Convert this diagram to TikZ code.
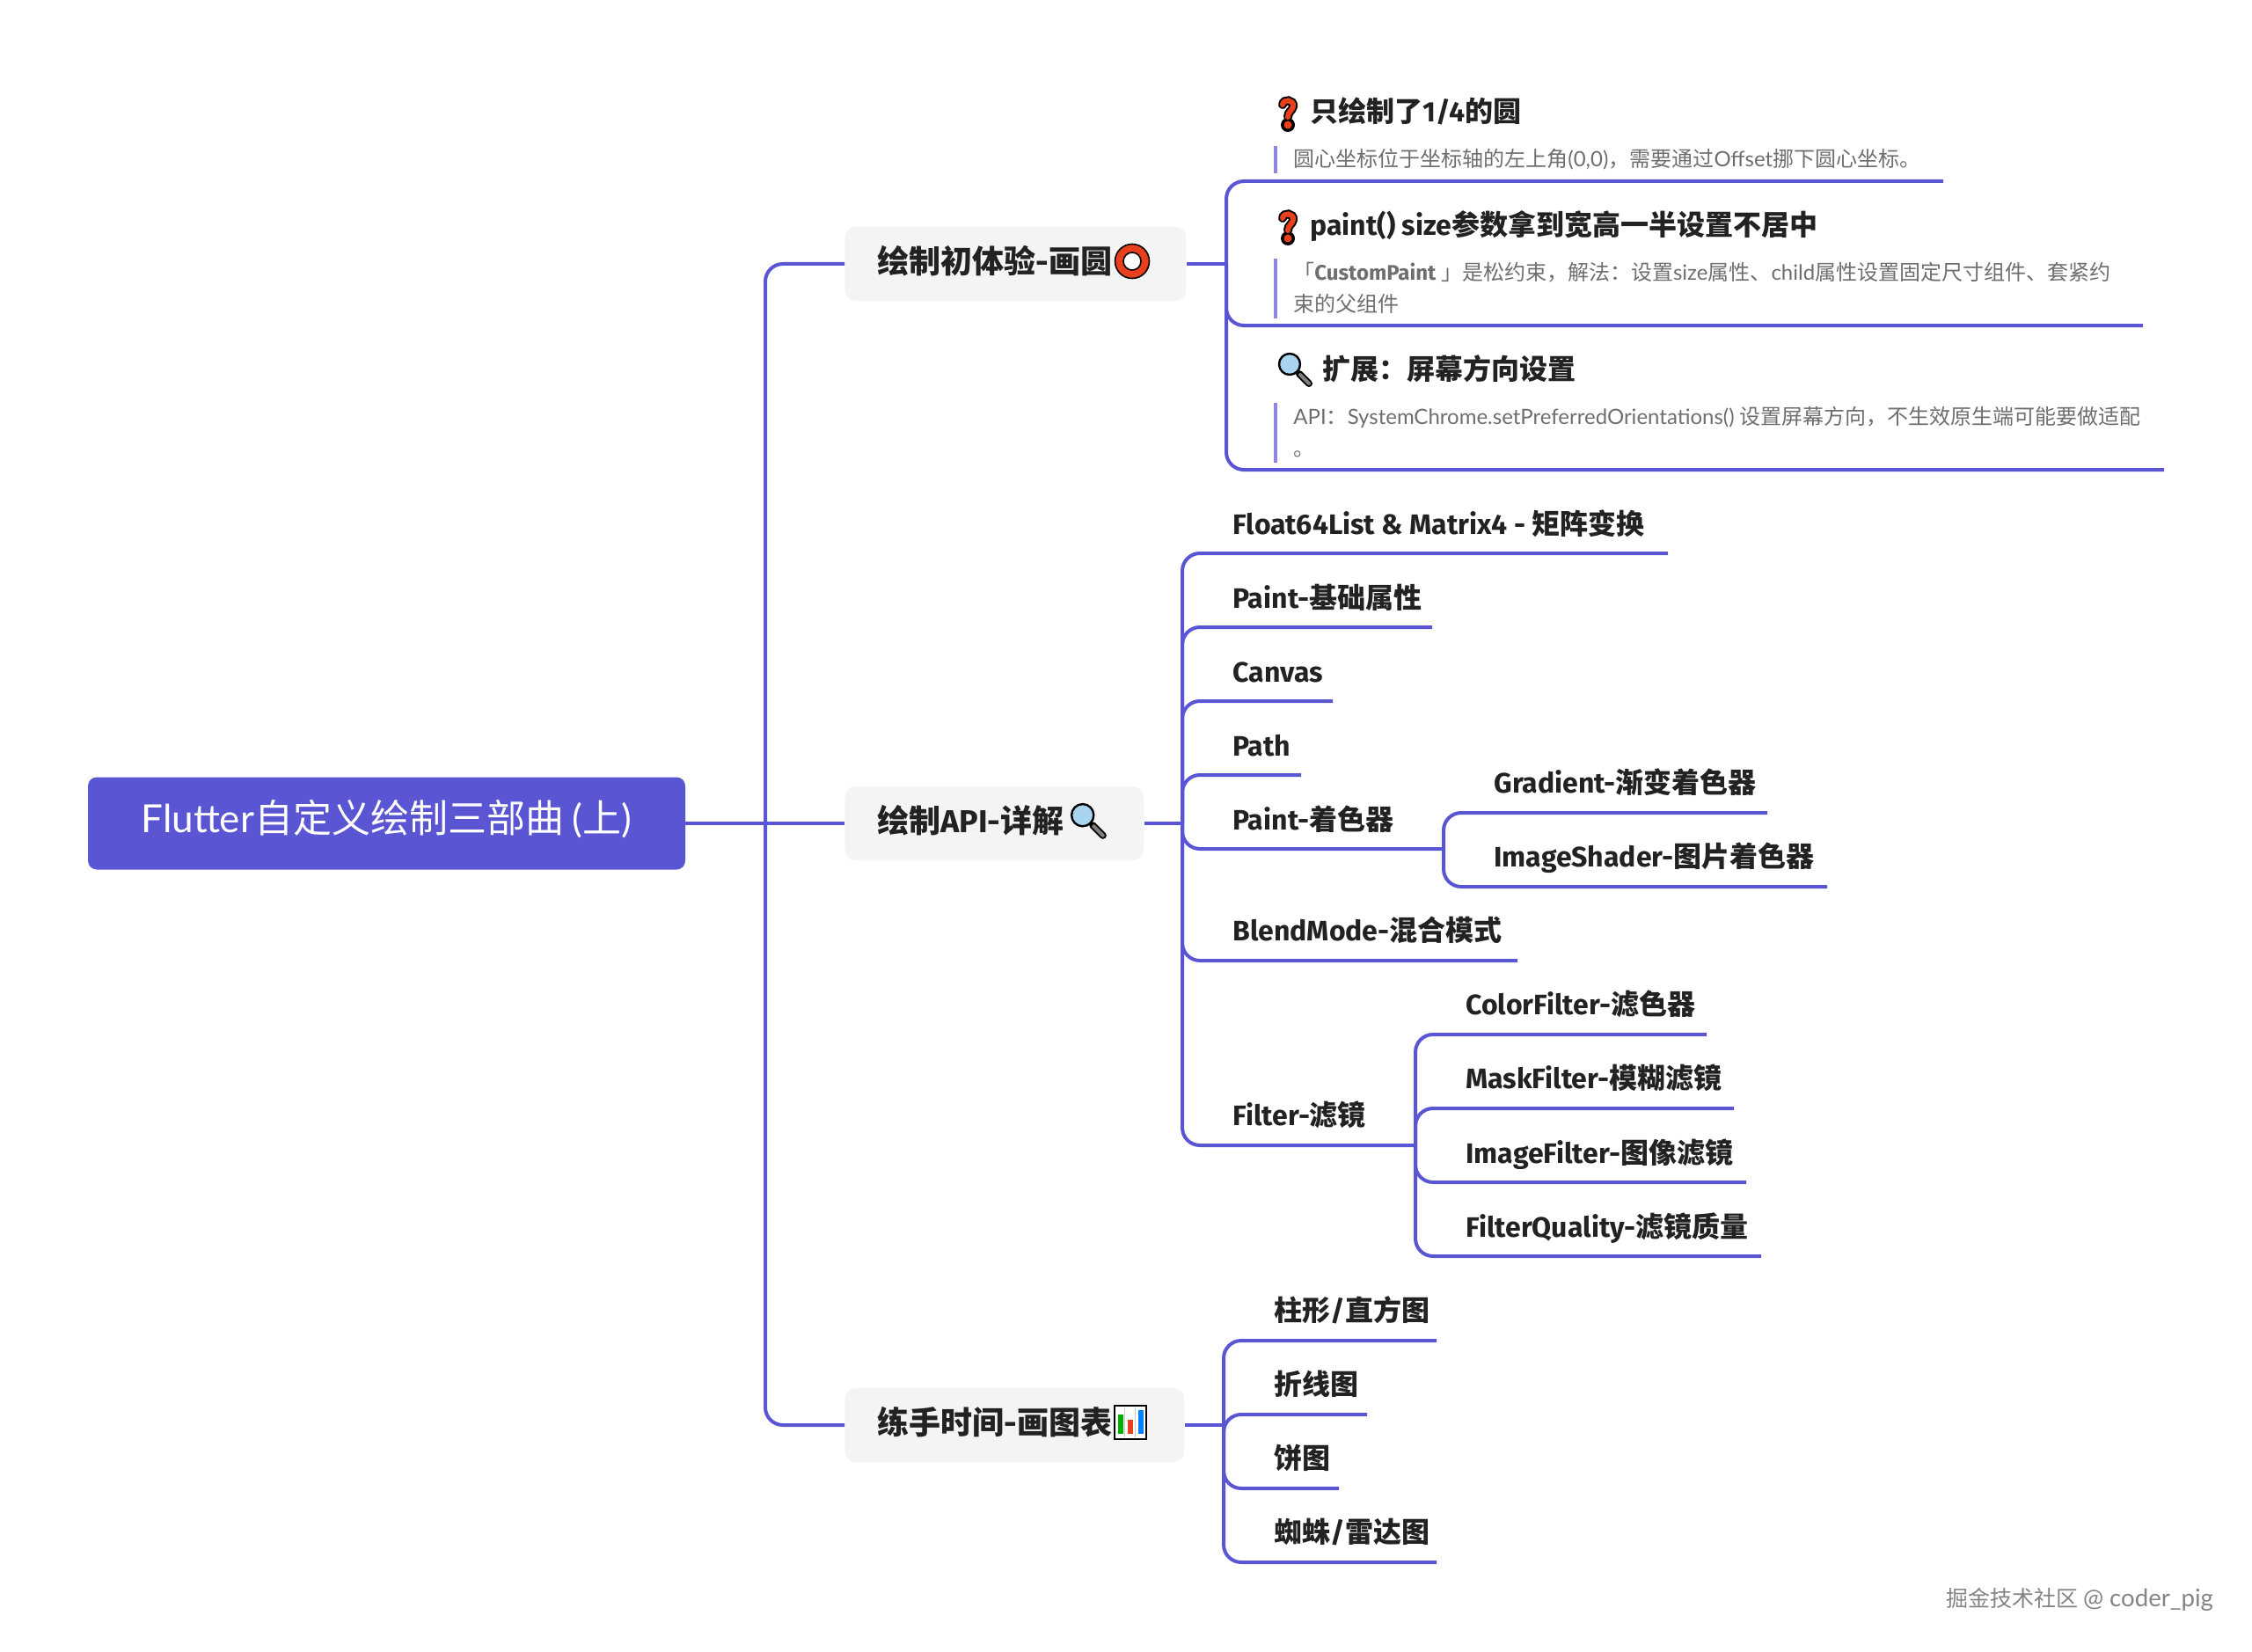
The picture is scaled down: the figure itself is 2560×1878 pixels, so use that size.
\documentclass[tikz,border=0pt]{standalone}
\usepackage{fontspec}
\setmainfont{Noto Sans CJK SC}
\newfontfamily\cjkface{Noto Sans CJK SC}
\newfontfamily\latface{Lato}[BoldFont={Fira Sans Bold}]
\newcount\asciichar
\asciichar=33
\loop
  \XeTeXcharclass\asciichar=7
  \advance\asciichar by 1
\ifnum\asciichar<127 \repeat
\XeTeXinterchartokenstate=1
\XeTeXinterchartoks 0 7 = {\latface}
\XeTeXinterchartoks 7 0 = {\cjkface}
\XeTeXinterchartoks 4095 7 = {\latface}
\XeTeXinterchartoks 4095 0 = {\cjkface}
\usepackage{xcolor}
\usepackage{tikz}
\usetikzlibrary{positioning}
\definecolor{mapblue}{HTML}{5A55D2}
\definecolor{barblue}{HTML}{8C87E3}
\definecolor{boxgray}{HTML}{F4F4F5}
\definecolor{inkdark}{HTML}{222222}
\definecolor{notegray}{HTML}{6E6E6E}
\definecolor{marked}{HTML}{E8401C}
\definecolor{lensblue}{HTML}{A8D4F0}
\tikzset{
  every picture/.style = {
    x = 0.5pt,
    y = -0.5pt,
  }
  ,
  link/.style = {
    draw = mapblue,
    line width = 2pt,
    rounded corners = 10pt
  }
  ,
  root-box/.style = {
    fill = mapblue,
    text = white,
    rounded corners = 5pt,
    font = \fontsize{22}{24}\selectfont,
    minimum width = 339.5pt,
    minimum height = 52.5pt,
    text height = 1.07em,
    text depth = 0pt,
    inner sep = 0pt
  }
  , % the three grey boxes
  branch-box/.style = {
    fill = boxgray,
    text = inkdark,
    rounded corners = 6pt,
    anchor = west,
    align = left,
    font = \fontsize{18}{22}\selectfont\bfseries,
    inner xsep = 18.5pt,
    inner ysep = 0pt,
    text height = 1.04em,
    text depth = 0pt,
    minimum height = 42pt
  }
  , % labels standing on a line
  leaf-text/.style = {
    anchor = west,
    text = inkdark,
    inner sep = 0pt,
    text height = 1.1em,
    text depth = 0pt,
    font = \fontsize{16}{20}\selectfont\bfseries
  }
  ,
  note-text/.style = {
    anchor = west,
    align = left,
    text = notegray,
    inner sep = 0pt,
    font = \fontsize{12}{18}\selectfont
  }
  ,
  note-bar/.style = {
    draw = barblue,
    line width = 2pt
  }
  ,
  mark-text/.style = {
    anchor = west,
    text = notegray!85,
    inner sep = 0pt,
    font = \fontsize{12.5}{16}\selectfont
  }
  , % small pictures beside the labels
  qmark/.pic = {
    \draw[black, line width = 5pt, line cap = round] (-6,-9) .. controls (-5,-16) and (7,-15) .. (6,-7) .. controls (5,-2) and (0,-1) .. (0,5);
    \fill[black] (0,14) circle (8);
    \draw[marked, line width = 3pt, line cap = round] (-6,-9) .. controls (-5,-16) and (7,-15) .. (6,-7) .. controls (5,-2) and (0,-1) .. (0,5);
    \fill[marked] (0,14) circle (4.5);
  }
  ,
  lens/.pic = {
    \draw[black, line width = 4pt, line cap = round] (5,5) -- (16,16);
    \draw[gray, line width = 2pt, line cap = round] (6,6) -- (16,16);
    \draw[black, fill = lensblue, line width = 1.2pt] (-6,-6) circle (12);
  }
  ,
  ring/.pic = {
    \draw[black, fill = marked, line width = 0.8pt] (0,0) circle (19.5);
    \draw[black, fill = white, line width = 0.8pt] (0,0) circle (10);
  }
  ,
  chart/.pic = {
    \draw[black, fill = white, line width = 1pt] (-18,-19) rectangle (18,19);
    \draw[gray!40, line width = 0.5pt] (-6,-17) -- (-6,17) (6,-17) -- (6,17);
    \fill[green!70!black] (-14,-9) rectangle (-8,13);
    \fill[marked] (-3,-3) rectangle (3,13);
    \fill[blue!50!cyan] (9,-14) rectangle (15,13);
  }
}
\begin{document}
\begin{tikzpicture}
\useasboundingbox (0,0) rectangle (2560,1878);

\node[root-box] at (439.5,936) (root) {Flutter自定义绘制三部曲 (上)};
\node[branch-box, text width = 157pt] at (960,300) (box1) {绘制初体验-画圆};
\node[branch-box, text width = 133pt] at (960,936) (box2) {绘制API-详解};
\node[branch-box, text width = 156pt] at (960,1620) (box3) {练手时间-画图表};
\pic at (1287,297) {ring};
\pic[scale = 1.05] at (1237,933) {lens};
\pic at (1284.5,1616.5) {chart};

\coordinate (trunk) at (870,936);
\coordinate (bus1) at (1394,300);
\coordinate (bus2) at (1344,936);
\coordinate (bus3) at (1391,1620);
\draw[link] (root) -- (box2);
\draw[link] (trunk) |- (box1.west);
\draw[link] (trunk) |- (box3.west);
\draw[link] (box1.east) -- (bus1);
\draw[link] (box2.east) -- (bus2);
\draw[link] (box3.east) -- (bus3);

% first branch
\node[leaf-text] at (1489,128) (circle) {只绘制了1/4的圆};
\node[leaf-text] at (1489,257) (size) {paint() size参数拿到宽高一半设置不居中};
\node[leaf-text] at (1503,420) (screen) {扩展：屏幕方向设置};
\pic at (1464,128) {qmark};
\pic at (1464,257) {qmark};
\pic at (1472,420) {lens};
\node[note-text] at (1470,181) (circlenote) {圆心坐标位于坐标轴的左上角(0,0)，需要通过Offset挪下圆心坐标。};
\node[note-text] at (1470,327) (sizenote) {「\textbf{CustomPaint} 」是松约束，解法：设置size属性、child属性设置固定尺寸组件、套紧约\\束的父组件};
\node[note-text] at (1470,491) (screennote) {API：SystemChrome.setPreferredOrientations() 设置屏幕方向，不生效原生端可能要做适配\\。};
\coordinate (circlebar) at (1450,166);
\coordinate (circlebarend) at (1450,197);
\coordinate (sizebar) at (1450,294);
\coordinate (sizebarend) at (1450,362);
\coordinate (screenbar) at (1450,458);
\coordinate (screenbarend) at (1450,526);
\draw[note-bar] (circlebar) -- (circlebarend);
\draw[note-bar] (sizebar) -- (sizebarend);
\draw[note-bar] (screenbar) -- (screenbarend);
\coordinate (circleend) at (2209,206);
\coordinate (sizeend) at (2436,370);
\coordinate (screenend) at (2460,534);
\draw[link] (bus1) |- (circleend);
\draw[link] (bus1) |- (sizeend);
\draw[link] (bus1) |- (screenend);

% second branch
\node[leaf-text] at (1401,596) (float) {Float64List \& Matrix4 - 矩阵变换};
\node[leaf-text] at (1401,680) (basic) {Paint-基础属性};
\node[leaf-text] at (1401,764) (canvas) {Canvas};
\node[leaf-text] at (1401,848) (path) {Path};
\node[leaf-text] at (1401,932) (shader) {Paint-着色器};
\node[leaf-text] at (1401,1058) (blend) {BlendMode-混合模式};
\node[leaf-text] at (1401,1268) (filter) {Filter-滤镜};
\coordinate (floatend) at (1896,629);
\coordinate (basicend) at (1628,713);
\coordinate (canvasend) at (1515,797);
\coordinate (pathend) at (1479,881);
\coordinate (shaderbus) at (1641,965);
\coordinate (blendend) at (1725,1092);
\coordinate (filterbus) at (1609,1302);
\draw[link] (bus2) |- (floatend);
\draw[link] (bus2) |- (basicend);
\draw[link] (bus2) |- (canvasend);
\draw[link] (bus2) |- (pathend);
\draw[link] (bus2) |- (shaderbus);
\draw[link] (bus2) |- (blendend);
\draw[link] (bus2) |- (filterbus);

\node[leaf-text] at (1698,890) (gradient) {Gradient-渐变着色器};
\node[leaf-text] at (1698,974) (image) {ImageShader-图片着色器};
\coordinate (gradientend) at (2009,924);
\coordinate (imageend) at (2077,1008);
\draw[link] (shaderbus) |- (gradientend);
\draw[link] (shaderbus) |- (imageend);

\node[leaf-text] at (1666,1142) (color) {ColorFilter-滤色器};
\node[leaf-text] at (1666,1226) (mask) {MaskFilter-模糊滤镜};
\node[leaf-text] at (1666,1311) (imagefilter) {ImageFilter-图像滤镜};
\node[leaf-text] at (1666,1395) (quality) {FilterQuality-滤镜质量};
\coordinate (colorend) at (1940,1176);
\coordinate (maskend) at (1971,1260);
\coordinate (imagefilterend) at (1985,1344);
\coordinate (qualityend) at (2002,1428);
\draw[link] (filterbus) |- (colorend);
\draw[link] (filterbus) |- (maskend);
\draw[link] (filterbus) |- (imagefilterend);
\draw[link] (filterbus) |- (qualityend);

% third branch
\node[leaf-text] at (1448,1490) (bars) {柱形/直方图};
\node[leaf-text] at (1448,1574) (lines) {折线图};
\node[leaf-text] at (1448,1658) (pie) {饼图};
\node[leaf-text] at (1448,1742) (radar) {蜘蛛/雷达图};
\coordinate (barsend) at (1633,1524);
\coordinate (linesend) at (1554,1608);
\coordinate (pieend) at (1522,1692);
\coordinate (radarend) at (1633,1776);
\draw[link] (bus3) |- (barsend);
\draw[link] (bus3) |- (linesend);
\draw[link] (bus3) |- (pieend);
\draw[link] (bus3) |- (radarend);

\node[mark-text] at (2212,1818) (mark) {掘金技术社区 {\fontsize{13.8}{16}\selectfont @ coder\_pig}};
\end{tikzpicture}
\end{document}
